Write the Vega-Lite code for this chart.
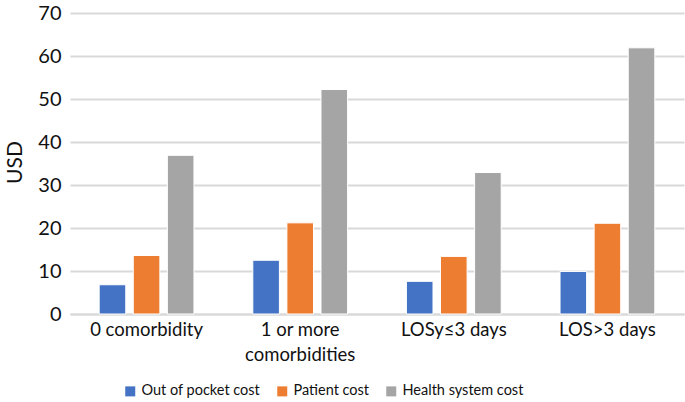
{
  "$schema": "https://vega.github.io/schema/vega-lite/v6.json",
  "width": 614,
  "height": 301,
  "autosize": {"type": "none"},
  "padding": {"left": 70, "top": 13, "right": 1, "bottom": 88},
  "background": "white",
  "config": {
    "font": "Lato",
    "view": {"stroke": null}
  },
  "data": {
    "values": [
      {"group": "0 comorbidity", "type": "Out of pocket cost", "usd": 6.8},
      {"group": "0 comorbidity", "type": "Patient cost", "usd": 13.6},
      {"group": "0 comorbidity", "type": "Health system cost", "usd": 36.9},
      {"group": "1 or more comorbidities", "type": "Out of pocket cost", "usd": 12.5},
      {"group": "1 or more comorbidities", "type": "Patient cost", "usd": 21.2},
      {"group": "1 or more comorbidities", "type": "Health system cost", "usd": 52.2},
      {"group": "LOSy≤3 days", "type": "Out of pocket cost", "usd": 7.6},
      {"group": "LOSy≤3 days", "type": "Patient cost", "usd": 13.4},
      {"group": "LOSy≤3 days", "type": "Health system cost", "usd": 32.9},
      {"group": "LOS>3 days", "type": "Out of pocket cost", "usd": 9.9},
      {"group": "LOS>3 days", "type": "Patient cost", "usd": 21.1},
      {"group": "LOS>3 days", "type": "Health system cost", "usd": 61.9}
    ]
  },
  "mark": {"type": "bar", "stroke": "white", "strokeWidth": 1},
  "encoding": {
    "x": {
      "field": "group",
      "type": "nominal",
      "sort": null,
      "scale": {"paddingInner": 0.383, "paddingOuter": 0.19},
      "axis": {
        "title": null,
        "labelAngle": 0,
        "labelFontSize": 18.5,
        "labelColor": "#111111",
        "labelPadding": 6,
        "labelLineHeight": 25,
        "ticks": false,
        "domainColor": "#d9d9d9",
        "domainWidth": 2,
        "labelExpr": "datum.value == '1 or more comorbidities' ? ['1 or more', 'comorbidities'] : datum.value"
      }
    },
    "xOffset": {
      "field": "type",
      "type": "nominal",
      "sort": ["Out of pocket cost", "Patient cost", "Health system cost"],
      "scale": {"paddingInner": 0.22, "paddingOuter": 0}
    },
    "y": {
      "field": "usd",
      "type": "quantitative",
      "scale": {"domain": [0, 70], "nice": false},
      "axis": {
        "title": "USD",
        "titleFontSize": 21,
        "titleFontWeight": "normal",
        "titleColor": "#111111",
        "titleX": -45,
        "titleY": 149,
        "values": [0, 10, 20, 30, 40, 50, 60, 70],
        "labelFontSize": 20,
        "labelColor": "#111111",
        "labelPadding": 9,
        "ticks": false,
        "domain": false,
        "gridColor": "#d9d9d9",
        "gridWidth": 2
      }
    },
    "color": {
      "field": "type",
      "type": "nominal",
      "sort": ["Out of pocket cost", "Patient cost", "Health system cost"],
      "scale": {
        "domain": ["Out of pocket cost", "Patient cost", "Health system cost"],
        "range": ["#4472C4", "#ED7D31", "#A5A5A5"]
      },
      "legend": {
        "title": null,
        "orient": "none",
        "direction": "horizontal",
        "legendX": 53,
        "legendY": 371,
        "symbolType": "square",
        "symbolSize": 100,
        "symbolStrokeWidth": 0,
        "labelFontSize": 14.5,
        "labelColor": "#111111",
        "labelOffset": 4,
        "columnPadding": 14
      }
    }
  }
}
